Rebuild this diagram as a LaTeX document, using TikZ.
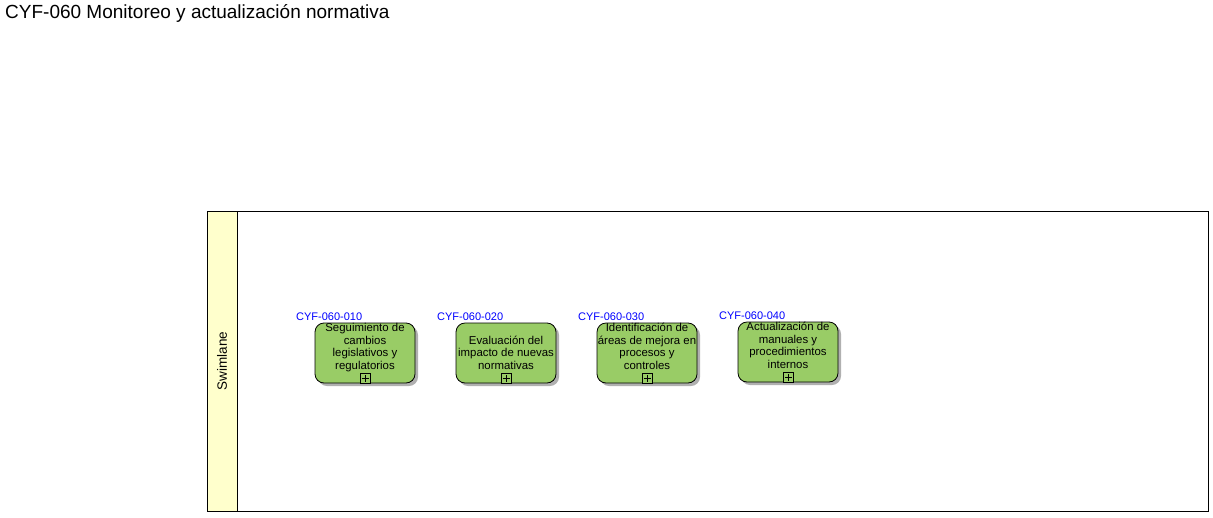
\documentclass[tikz,border=0pt]{standalone}
\usepackage{fontspec}
\setmainfont{Liberation Sans}
\definecolor{lanefill}{HTML}{FFFFCC}
\definecolor{taskfill}{HTML}{99CC66}
\definecolor{shadowc}{HTML}{B0B0B0}
\definecolor{idblue}{HTML}{0000FF}
\tikzset{
  task/.style={draw=black, line width=0.8pt, fill=taskfill, rounded corners=9pt,
    minimum width=100pt, minimum height=60pt, inner sep=0pt},
  tasktext/.style={font=\fontsize{11.4}{12.4}\selectfont, align=center, inner sep=0pt, anchor=base},
  tid/.style={font=\fontsize{11}{12}\selectfont, text=idblue, anchor=south west, inner sep=0pt},
  plusbox/.style={draw=black, line width=0.6pt, minimum size=10pt, inner sep=0pt, fill=taskfill},
}
\begin{document}
\begin{tikzpicture}[x=1pt,y=-1pt]
\useasboundingbox (0,0) rectangle (1213,517);
\node[anchor=west, inner sep=0pt, font=\fontsize{19}{21}\selectfont] (title) at (5,13) {CYF-060 Monitoreo y actualización normativa};
% swimlane
\draw[line width=0.8pt, fill=white] (207,211) rectangle (1208,511);
\draw[line width=0.8pt, fill=lanefill] (207,211) rectangle (237,511);
\node[rotate=90, font=\fontsize{13.5}{15}\selectfont, inner sep=0pt] (lane) at (222,361) {Swimlane};
% tasks
\foreach \n/\x/\y/\id/\txt in {
  a/365/353/CYF-060-010/{Seguimiento de\\cambios\\legislativos y\\regulatorios},
  b/506/353/CYF-060-020/{Evaluación del\\impacto de nuevas\\normativas},
  c/647/353/CYF-060-030/{Identificación de\\áreas de mejora en\\procesos y\\controles},
  d/788/352/CYF-060-040/{Actualización de\\manuales y\\procedimientos\\internos}}{
  \fill[shadowc, rounded corners=9pt] (\x-47,\y-27) rectangle (\x+53,\y+33);
  \node[task] (\n) at (\x,\y) {};
  \node[tasktext] (\n t) at (\x,\y+16) {\txt};
  \node[plusbox] (\n p) at (\x,\y+25) {};
  \draw[line width=0.6pt] ([xshift=-3.5pt]\n p.center) -- ([xshift=3.5pt]\n p.center);
  \draw[line width=0.6pt] ([yshift=-3.5pt]\n p.center) -- ([yshift=3.5pt]\n p.center);
  \node[tid] (\n id) at (\x-69,\y-32) {\id};
}
\end{tikzpicture}
\end{document}
